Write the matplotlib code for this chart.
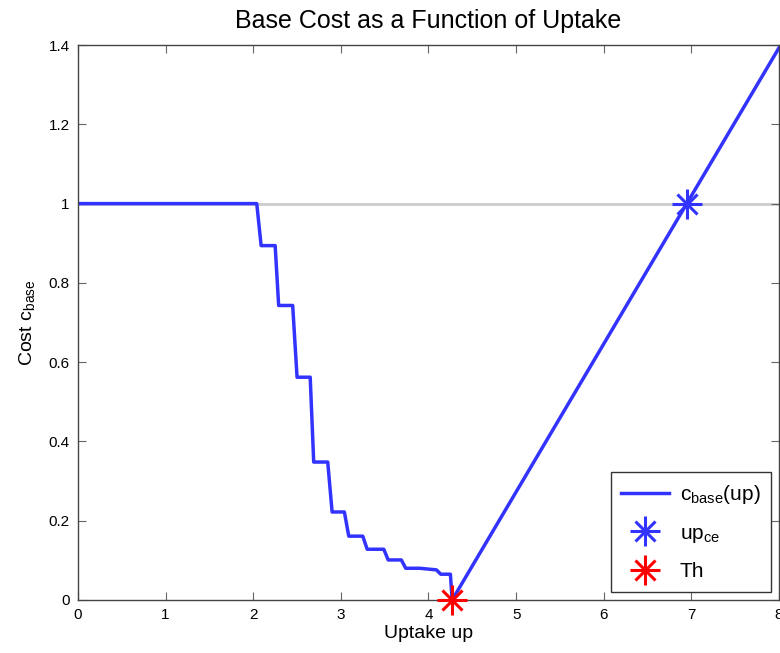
import matplotlib.pyplot as plt
from matplotlib.lines import Line2D

plt.rcParams['font.family'] = ['Liberation Sans', 'DejaVu Sans']
plt.rcParams['mathtext.default'] = 'regular'

# base cost curve: stepped decline, then linear rise past the threshold
uptake = [0.0, 2.04, 2.09, 2.25, 2.29, 2.45, 2.50, 2.65, 2.69, 2.85, 2.90,
          3.04, 3.09, 3.25, 3.30, 3.49, 3.54, 3.69, 3.74, 3.90, 4.09, 4.14,
          4.25, 4.27, 8.0]
cost = [1.0, 1.0, 0.894, 0.894, 0.743, 0.743, 0.562, 0.562, 0.348, 0.348, 0.222,
        0.222, 0.161, 0.161, 0.128, 0.128, 0.101, 0.101, 0.080, 0.080, 0.076, 0.065,
        0.065, 0.0, 1.393]

th_x, th_y = 4.27, 0.0
upce_x, upce_y = 6.95, 1.0
ref_level = 1.0

blue = '#3333ff'
red = '#ff0000'

fig = plt.figure(figsize=(7.8, 6.53), dpi=100)
ax = fig.add_axes([0.1, 0.0812, 0.8987, 0.8498])

ax.axhline(ref_level, color='#cccccc', lw=2, zorder=1)
ax.plot(uptake, cost, color=blue, lw=2.5, zorder=2)


def asterisk(x, y, color, size=21):
    # MATLAB-style '*' marker: plus and cross overlaid
    p, = ax.plot([x], [y], marker='+', ms=size, mew=2.2, color=color,
                 ls='none', zorder=3, clip_on=False)
    c, = ax.plot([x], [y], marker='x', ms=size / 1.414, mew=2.2, color=color,
                 ls='none', zorder=3, clip_on=False)
    return p, c


up_handles = asterisk(upce_x, upce_y, blue)
th_handles = asterisk(th_x, th_y, red)

ax.set_xlim(0, 8)
ax.set_ylim(0, 1.4)
ax.set_xticks(range(0, 9))
ax.set_yticks([0, 0.2, 0.4, 0.6, 0.8, 1.0, 1.2, 1.4])
ax.set_yticklabels(['0', '0.2', '0.4', '0.6', '0.8', '1', '1.2', '1.4'])
ax.tick_params(direction='in', top=True, right=True, length=6, width=0.8,
               labelsize=11, pad=6, colors='black')
ax.tick_params(axis='both', color='#666666')
for s in ax.spines.values():
    s.set_color('#444444')
    s.set_linewidth(1.0)

ax.set_title('Base Cost as a Function of Uptake', fontsize=18, pad=12)
ax.set_xlabel('Uptake up', fontsize=14, labelpad=2)
ax.set_ylabel('Cost c$_{base}$', fontsize=14, labelpad=8)

line_h = Line2D([], [], color=blue, lw=2.5)
leg = ax.legend([line_h, up_handles, th_handles],
                ['c$_{base}$(up)', 'up$_{ce}$', 'Th'],
                loc='lower right', fontsize=15, frameon=True, fancybox=False,
                borderaxespad=0.4, handlelength=2.3, labelspacing=0.85,
                borderpad=0.5, handletextpad=0.5)
leg.get_frame().set_edgecolor('#333333')
leg.get_frame().set_linewidth(1.0)
leg.get_frame().set_alpha(1)

fig.savefig('out.png', dpi=100)
